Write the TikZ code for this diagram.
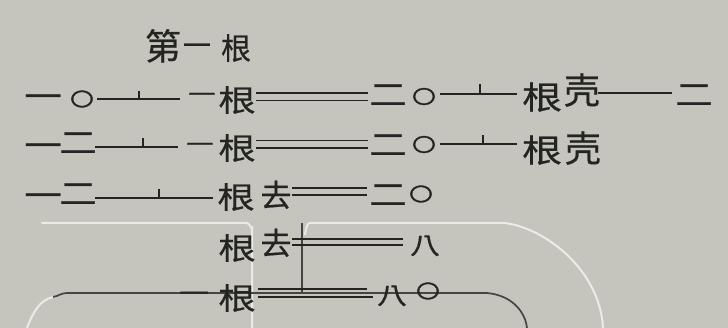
\documentclass[tikz,border=0pt]{standalone}
\usepackage{fontspec}
\newfontfamily\cjk[FakeStretch=1.25,FakeBold=0.6]{Noto Sans CJK TC}
\newfontfamily\cjkn[FakeBold=0.6]{Noto Sans CJK TC}
\newfontfamily\cjkz[FakeStretch=1.25,FakeBold=1.5]{Noto Sans CJK TC}
\definecolor{paper}{RGB}{198,197,189}
\definecolor{ink}{RGB}{36,36,34}
\definecolor{edge}{RGB}{236,236,230}
\tikzset{
  g/.style={font=\cjk\fontsize{#1}{#1}\selectfont, inner sep=0pt, text=ink,
            anchor=base, yshift={-0.38*#1*1pt}},
  g/.default=30,
  gn/.style={font=\cjkn\fontsize{#1}{#1}\selectfont, inner sep=0pt, text=ink,
            anchor=base, yshift={-0.38*#1*1pt}},
  gn/.default=30,
  zero/.style={font=\cjkz\fontsize{19}{19}\selectfont, inner sep=0pt, text=ink,
            anchor=base, yshift={-0.38*19*1pt}},
  rod/.style={draw=ink, line width=1.6pt},
  tick/.style={draw=ink, line width=1.4pt},
  paperedge/.style={draw=edge, line width=2pt, line cap=round},
  darkedge/.style={draw=ink!85, line width=1.7pt},
}
\begin{document}
\begin{tikzpicture}[x=1pt,y=-1pt]
\fill[paper] (0,0) rectangle (728,328);
\useasboundingbox (0,0) rectangle (728,328);

% scan artefacts (page edges)
\draw[paperedge] (42,223) -- (247,223) to[out=0,in=-90] (252,228) -- (252,328);
\draw[paperedge] (305,234) to[out=-90,in=180] (310,223) -- (505,223)
  .. controls (545,228) and (600,270) .. (603,328);
\draw[paperedge] (27,328) .. controls (33,312) and (40,300) .. (53,297);
\draw[darkedge] (53,297) to[out=10,in=180] (67,293) -- (487,293)
  .. controls (510,295) and (525,310) .. (527,328);
\draw[darkedge] (302,223) -- (302,293);

% title
\node[gn=36] (t1) at (163,46) {第};
\node[gn=28] (t2) at (197,45) {一};
\node[gn=30] (t3) at (236,48) {根};

% row 1
\node[g] (a1) at (43,96) {一};
\node[zero] (a2) at (82,99) {〇};
\draw[rod] (97,99) -- (180,99);
\draw[tick] (139,91) -- (139,99);
\node[g=22] (a3) at (202,94) {一};
\node[g] (a4) at (237,100) {根};
\draw[rod] (256,93) -- (368,93);
\draw[rod] (256,100.5) -- (368,100.5);
\node[g] (a5) at (388,94) {二};
\node[zero] (a6) at (424,96.5) {〇};
\draw[rod] (440,94) -- (517,94);
\draw[tick] (480,84) -- (480,94);
\node[g=32] (a7) at (542,97) {根};
\node[gn=36] (a8) at (582,90) {壳};
\draw[rod] (598,93) -- (672,93);
\node[g] (a9) at (694,94) {二};

% row 2
\node[g] (b1) at (43,145) {一};
\node[g] (b2) at (78,142) {二};
\draw[rod] (95,147) -- (178,147);
\draw[tick] (143,138) -- (143,147);
\node[g=22] (b3) at (200,144) {一};
\node[g] (b4) at (237,148) {根};
\draw[rod] (256,140.5) -- (368,140.5);
\draw[rod] (256,148) -- (368,148);
\node[g] (b5) at (388,144) {二};
\node[zero] (b6) at (424,144.5) {〇};
\draw[rod] (440,144) -- (517,144);
\draw[tick] (483,135) -- (483,144);
\node[g=32] (b7) at (542,150) {根};
\node[gn=36] (b8) at (583,148) {壳};

% row 3
\node[g] (c1) at (43,195) {一};
\node[g] (c2) at (78,193) {二};
\draw[rod] (95,198) -- (213,198);
\draw[tick] (159,189) -- (159,198);
\node[g] (c3) at (236,197) {根};
\node[gn=31] (c4) at (276,195) {去};
\draw[rod] (292,188) -- (367,188);
\draw[rod] (292,195) -- (367,195);
\node[g] (c5) at (388,194) {二};
\node[zero] (c6) at (421,194) {〇};

% row 4
\node[g] (d1) at (237,248) {根};
\node[gn=31] (d2) at (276,243) {去};
\draw[rod] (292,239) -- (403,239);
\draw[rod] (292,245) -- (403,245);
\node[g=24] (d3) at (425,245) {八};

% row 5
\node[g=24] (e1) at (194,293) {一};
\node[g] (e2) at (237,298) {根};
\draw[rod] (258,289) -- (367,289);
\draw[rod] (258,297) -- (373,297);
\node[g=24] (e3) at (392,295) {八};
\node[zero] (e4) at (428,291) {〇};
\end{tikzpicture}
\end{document}
